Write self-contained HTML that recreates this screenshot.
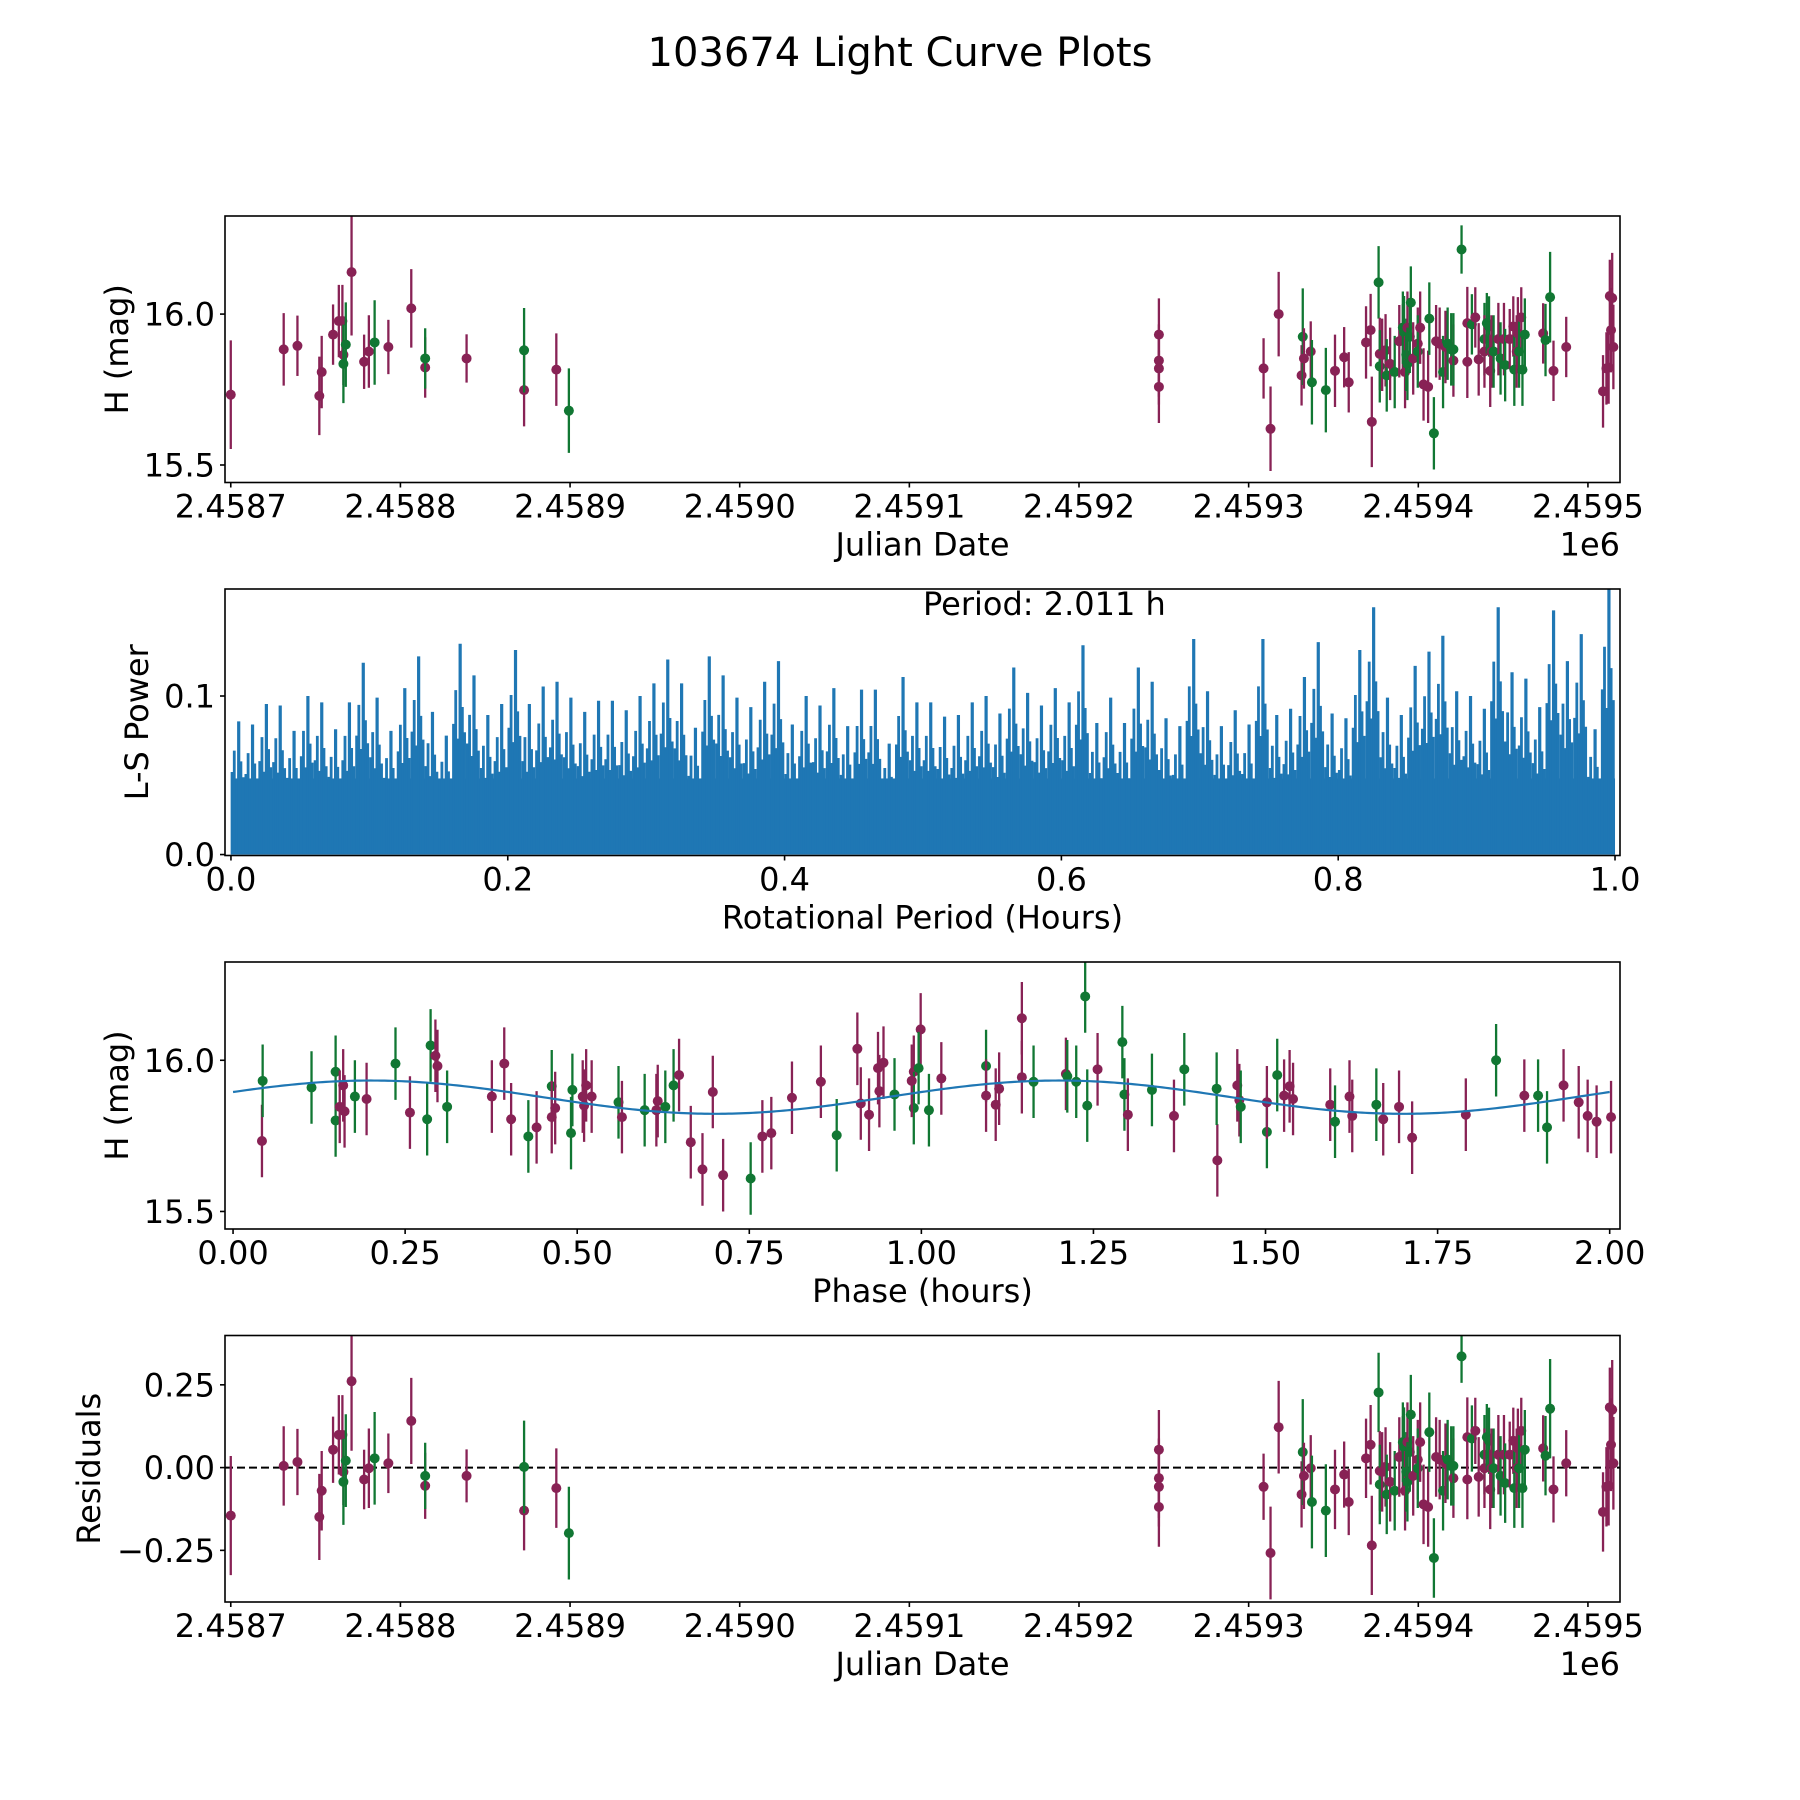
<!DOCTYPE html>
<html><head><meta charset="utf-8"><style>
html,body{margin:0;padding:0;background:#fff;}
svg{display:block;font-family:"DejaVu Sans","Liberation Sans",sans-serif;}
</style></head><body>
<svg id="fig" width="1800" height="1800" viewBox="0 0 1800 1800" xmlns="http://www.w3.org/2000/svg">
<rect width="1800" height="1800" fill="#fff"/>
<text x="900" y="66" font-size="40" text-anchor="middle">103674 Light Curve Plots</text>
</svg>
<script>
// ---------- Data: light curve (JD - 2458700, H mag, colour) ----------
const lcT = [0,31.2,39.3,52.2,53.6,60.3,63.7,65.8,66.4,66.4,67.8,71.2,78.6,81.4,84.8,92.9,106.4,114.6,114.6,139.0,172.9,172.9,191.9,199.3,
547.1,547.1,547.1,547.1,608.8,612.9,617.7,631.2,631.9,632.6,636.6,637.3,645.5,650.9,656.3,659.0,669.2,671.9,672.6,676.6,677.3,677.3,678.7,680.7,681.4,683.4,
686.1,688.8,690.9,690.9,691.6,692.2,692.9,693.6,693.6,695.0,695.6,697.0,699.7,699.7,701.1,703.1,705.8,706.5,709.2,710.5,712.6,714.6,716.0,717.3,719.4,720.7,720.7,
725.5,728.9,728.9,731.6,733.6,735.6,739.0,739.0,740.4,741.7,742.4,743.1,744.4,747.2,748.5,750.5,751.2,753.9,756.0,756.6,758.0,758.7,759.4,760.7,761.4,762.8,
773.6,775.0,777.7,779.7,787.2,808.9,810.9,812.2,812.9,813.6,814.3,815.0];
const lcMag = [15.733,15.883,15.895,15.729,15.808,15.932,15.977,15.977,15.865,15.835,15.899,16.139,15.842,15.876,15.906,15.891,16.019,15.823,15.853,15.853,15.748,15.880,15.816,15.680,
15.932,15.846,15.820,15.759,15.820,15.620,16.000,15.797,15.925,15.853,15.876,15.774,15.748,15.812,15.857,15.774,15.906,15.947,15.643,16.105,15.868,15.827,15.865,15.880,15.797,15.835,
15.808,15.910,15.914,15.955,15.940,15.808,15.865,15.955,15.835,15.925,16.038,15.853,15.902,15.876,15.955,15.767,15.759,15.985,15.605,15.910,15.902,15.808,15.891,15.902,15.883,15.846,15.883,
16.214,15.970,15.842,15.966,15.989,15.850,15.917,15.876,15.970,15.959,15.812,15.876,15.876,15.917,15.853,15.917,15.831,15.917,15.959,15.816,15.876,15.936,15.876,15.989,15.816,15.932,
15.936,15.914,16.056,15.812,15.891,15.744,15.820,15.823,16.060,15.947,16.053,15.891];
const lcBand = "mmmmmmmmmggmmmgmmmgmmgmgmmmmmmmmgmmggmmmmmmgmgmmgmgmmggmgmgggmmgmmmggmmgmggmggmmgmmgmggmmgmgmgmmgmmgmggmggmmmmmmmmm";
const lcErr = [0.18,0.12,0.10,0.13,0.12,0.10,0.12,0.12,0.10,0.13,0.14,0.21,0.09,0.12,0.14,0.09,0.13,0.10,0.10,0.08,0.12,0.14,0.12,0.14,
0.12,0.12,0.12,0.12,0.10,0.14,0.14,0.10,0.16,0.10,0.10,0.14,0.14,0.12,0.10,0.10,0.12,0.12,0.15,0.12,0.12,0.12,0.12,0.12,0.12,0.12,
0.12,0.12,0.12,0.12,0.12,0.12,0.12,0.12,0.12,0.12,0.12,0.12,0.12,0.12,0.12,0.12,0.12,0.12,0.12,0.12,0.12,0.12,0.12,0.12,0.12,0.12,0.12,
0.08,0.12,0.12,0.10,0.10,0.12,0.12,0.12,0.10,0.10,0.12,0.12,0.12,0.12,0.12,0.12,0.12,0.10,0.10,0.12,0.12,0.12,0.12,0.10,0.12,0.12,
0.10,0.12,0.15,0.10,0.10,0.12,0.12,0.12,0.12,0.14,0.15,0.14];

// ---------- Data: phase-folded (phase hours, H mag, colour) ----------
const phX = [0.042,0.043,0.114,0.149,0.149,0.155,0.160,0.162,0.177,0.194,0.236,0.257,0.282,0.287,0.294,0.297,0.311,0.376,0.394,0.404,0.429,0.441,0.463,0.463,0.468,0.491,0.493,0.508,0.513,0.510,0.521,
0.560,0.565,0.598,0.615,0.617,0.628,0.640,0.648,0.665,0.682,0.697,0.712,0.752,0.769,0.782,0.812,0.854,0.877,0.907,0.912,0.924,0.937,0.939,0.945,0.961,0.989,0.989,0.999,0.986,0.996,
1.011,1.029,1.094,1.094,1.108,1.113,1.146,1.146,1.163,1.210,1.212,1.225,1.238,1.241,1.256,1.292,1.295,1.300,1.335,1.367,1.382,1.430,1.429,1.459,1.462,1.464,1.502,1.502,1.517,1.527,1.535,1.540,
1.594,1.601,1.622,1.626,1.661,1.671,1.694,1.713,1.791,1.835,1.876,1.896,1.909,1.933,1.955,1.968,1.981,2.002];
const phMag = [15.733,15.932,15.910,15.801,15.962,15.846,15.917,15.831,15.880,15.872,15.989,15.827,15.805,16.049,16.015,15.981,15.846,15.880,15.989,15.805,15.748,15.778,15.914,15.812,15.842,15.759,15.902,15.880,15.917,15.850,15.880,
15.861,15.812,15.835,15.835,15.865,15.846,15.917,15.951,15.729,15.639,15.895,15.620,15.609,15.748,15.759,15.876,15.929,15.752,16.038,15.857,15.820,15.974,15.898,15.992,15.887,15.962,15.842,16.102,15.932,15.974,
15.835,15.940,15.981,15.883,15.853,15.906,16.139,15.944,15.929,15.955,15.947,15.929,16.211,15.850,15.970,16.060,15.887,15.820,15.902,15.816,15.970,15.669,15.906,15.917,15.868,15.846,15.763,15.861,15.951,15.883,15.914,15.872,
15.853,15.797,15.880,15.816,15.853,15.805,15.846,15.744,15.820,16.000,15.883,15.883,15.778,15.917,15.861,15.816,15.797,15.812];
const phBand = "mggggmmmgmgmgg" + "mmgmmmgmgmmggmmmm" + "gmgmmggmmmmmgmmmmgmmmmmmgmgmm" + "ggmgmmmmmgmggggmggmgmgmgmmggmgmm" + "mmgmmgmmmmgmggmmmm";
const phErr = 0.12;

// ---------- Data: Lomb-Scargle periodogram (max power per 0.01 h bin) ----------
const lsBinStart = 0.0;
const lsBinWidth = 0.01;
const lsBinMax = [0.084,0.082,0.095,0.094,0.078,0.100,0.096,0.079,0.096,0.121,0.099,0.078,0.105,0.125,0.090,0.075,0.133,0.113,0.088,0.095,
0.129,0.095,0.106,0.109,0.099,0.090,0.097,0.097,0.091,0.100,0.108,0.123,0.108,0.080,0.125,0.113,0.099,0.093,0.109,0.122,
0.082,0.100,0.094,0.105,0.081,0.104,0.104,0.070,0.112,0.096,0.096,0.087,0.088,0.096,0.100,0.089,0.118,0.102,0.094,0.105,
0.096,0.132,0.083,0.099,0.083,0.118,0.109,0.086,0.081,0.136,0.103,0.081,0.091,0.082,0.136,0.088,0.092,0.112,0.134,0.089,
0.086,0.129,0.156,0.099,0.088,0.119,0.128,0.138,0.103,0.100,0.092,0.156,0.115,0.111,0.093,0.154,0.122,0.139,0.079,0.168];
const lsDenseLevel = 0.048;

// ---------- Fit (sinusoid in phase) ----------
const fitOffset = 15.878, fitAmp = 0.055, fitPeak = 0.2, fitPeriod = 1.0;

// ---------- Ticks ----------
const jdTicks = [0,100,200,300,400,500,600,700,800];
const jdTickLabels = ["2.4587","2.4588","2.4589","2.4590","2.4591","2.4592","2.4593","2.4594","2.4595"];
const magTicks = [15.5,16.0];
const magTickLabels = ["15.5","16.0"];
const lsXTicks = [0,0.2,0.4,0.6,0.8,1.0];
const lsXTickLabels = ["0.0","0.2","0.4","0.6","0.8","1.0"];
const lsYTicks = [0,0.1];
const lsYTickLabels = ["0.0","0.1"];
const phXTicks = [0,0.25,0.5,0.75,1.0,1.25,1.5,1.75,2.0];
const phXTickLabels = ["0.00","0.25","0.50","0.75","1.00","1.25","1.50","1.75","2.00"];
const resTicks = [-0.25,0,0.25];
const resTickLabels = ["\u22120.25","0.00","0.25"];

const NS = "http://www.w3.org/2000/svg";
const svg = document.getElementById("fig");
const COL = {m:"#882255", g:"#117733"};
const FS = 32;
function mk(tag, attrs, parent){ const e=document.createElementNS(NS,tag); for(const k in attrs) e.setAttribute(k,attrs[k]); (parent||svg).appendChild(e); return e; }
function txt(s, attrs, parent){ const e=mk("text",attrs,parent); e.textContent=s; return e; }

function makeAxes(name, box, xlim, ylim){
  const g = mk("g",{});
  
  
  const sx = v => box.x0 + (v-xlim[0])/(xlim[1]-xlim[0])*(box.x1-box.x0);
  const sy = v => box.y1 - (v-ylim[0])/(ylim[1]-ylim[0])*(box.y1-box.y0);
  const clipId = name+"-clip";
  const cp = mk("clipPath",{id:clipId},g);
  mk("rect",{x:box.x0,y:box.y0,width:box.x1-box.x0,height:box.y1-box.y0},cp);
  const plot = mk("g",{"clip-path":"url(#"+clipId+")"},g);
  
  
  return {g, plot, sx, sy, box};
}
function frame(ax){
  const r = mk("rect",{x:ax.box.x0,y:ax.box.y0,width:ax.box.x1-ax.box.x0,height:ax.box.y1-ax.box.y0,fill:"none",stroke:"#000","stroke-width":1.6},ax.g);
  
  
}
function xTicks(ax, vals, labels, name){
  const g = mk("g",{},ax.g);
  
  
  vals.forEach((v,i)=>{
    const x = ax.sx(v);
    mk("line",{x1:x,x2:x,y1:ax.box.y1,y2:ax.box.y1+5,stroke:"#000","stroke-width":1.6},g);
    const t = txt(labels[i],{x:x,y:ax.box.y1+35,"font-size":FS,"text-anchor":"middle"},g);
    
    
  });
}
function yTicks(ax, vals, labels, name){
  const g = mk("g",{},ax.g);
  
  
  vals.forEach((v,i)=>{
    const y = ax.sy(v);
    mk("line",{x1:ax.box.x0-5,x2:ax.box.x0,y1:y,y2:y,stroke:"#000","stroke-width":1.6},g);
    const t = txt(labels[i],{x:ax.box.x0-10,y:y+11.5,"font-size":FS,"text-anchor":"end"},g);
    
    
  });
}
function labels(ax, xl, yl, xname, yname, ylx){
  const cx = (ax.box.x0+ax.box.x1)/2, cy=(ax.box.y0+ax.box.y1)/2;
  const a = txt(xl,{x:cx,y:ax.box.y1+73,"font-size":FS,"text-anchor":"middle"},ax.g);
  
  
  const b = txt(yl,{x:0,y:0,"font-size":FS,"text-anchor":"middle",transform:"translate("+ylx+","+cy+") rotate(-90)"},ax.g);
  
  
}
function errPoints(ax, xs, ys, errs, bands, name){
  const g = mk("g",{},ax.plot);
  
  
  xs.forEach((xv,i)=>{
    const e = Array.isArray(errs)? errs[i] : errs;
    const c = COL[bands[i]] || COL.m;
    const x = ax.sx(xv), y = ax.sy(ys[i]);
    const l = mk("line",{x1:x,x2:x,y1:ax.sy(ys[i]+e),y2:ax.sy(ys[i]-e),stroke:c,"stroke-width":2.3},g);
    
    
    const p = mk("circle",{cx:x,cy:y,r:5,fill:c},g);
    
    
  });
}

// ---------- Panel 1: light curve ----------
const jdLim = [-3.4, 818.9];
const magLim = [15.442, 16.325];
const ax1 = makeAxes("light-curve-axes",{x0:225,x1:1620,y0:216,y1:482.5},jdLim,magLim);
errPoints(ax1, lcT, lcMag, lcErr, lcBand, "light-curve-points");
frame(ax1);
xTicks(ax1, jdTicks, jdTickLabels, "light-curve-x-ticks");
yTicks(ax1, magTicks, magTickLabels, "light-curve-y-ticks");
labels(ax1, "Julian Date", "H (mag)", "light-curve-x-title", "light-curve-y-title", 128);
const off1 = txt("1e6",{x:1620,y:482.5+73,"font-size":FS,"text-anchor":"end"},ax1.g);



// ---------- Panel 2: periodogram ----------
const ax2 = makeAxes("periodogram-axes",{x0:225,x1:1620,y0:589,y1:855.5},[-0.0043,1.0036],[-0.0006,0.1675]);
const lsG = mk("g",{},ax2.plot);


const lsEnd = lsBinStart + lsBinMax.length*lsBinWidth;
const dense = mk("rect",{x:ax2.sx(lsBinStart),y:ax2.sy(lsDenseLevel),width:ax2.sx(lsEnd)-ax2.sx(lsBinStart),height:ax2.sy(0)-ax2.sy(lsDenseLevel),fill:"#1f77b4"},lsG);


// texture: sub-lines within each bin, scaled from that bin's peak (decorative)
const subOff = [0.08,0.24,0.40,0.56,0.72,0.88];
const subScale = [0.62,0.78,0.55,1.0,0.70,0.58];
lsBinMax.forEach((pw,i)=>{
  const p0 = lsBinStart + i*lsBinWidth;
  subOff.forEach((o,k)=>{
    const x = ax2.sx(p0 + lsBinWidth*o);
    const h = Math.max(lsDenseLevel, pw*subScale[k]);
    const s = mk("line",{x1:x,x2:x,y1:ax2.sy(0),y2:ax2.sy(h),stroke:"#1f77b4","stroke-width":k===3?3.2:2.8},lsG);
    
    
  });
});
frame(ax2);
xTicks(ax2, lsXTicks, lsXTickLabels, "periodogram-x-ticks");
yTicks(ax2, lsYTicks, lsYTickLabels, "periodogram-y-ticks");
labels(ax2, "Rotational Period (Hours)", "L-S Power", "periodogram-x-title", "periodogram-y-title", 148);
const per = txt("Period: 2.011 h",{x:923,y:615,"font-size":FS},ax2.g);



// ---------- Panel 3: phase-folded ----------
const ax3 = makeAxes("phase-axes",{x0:225,x1:1620,y0:962,y1:1229},[-0.0117,2.015],magLim);
errPoints(ax3, phX, phMag, phErr, phBand, "phase-points");
let d = "";
for(let k=0;k<=400;k++){
  const ph = k/400*2.0;
  const m = fitOffset + fitAmp*Math.cos(2*Math.PI*(ph-fitPeak)/fitPeriod);
  d += (k?"L":"M")+ax3.sx(ph).toFixed(2)+","+ax3.sy(m).toFixed(2);
}
const fit = mk("path",{d:d,fill:"none",stroke:"#1f77b4","stroke-width":2.2},ax3.plot);


frame(ax3);
xTicks(ax3, phXTicks, phXTickLabels, "phase-x-ticks");
yTicks(ax3, magTicks, magTickLabels, "phase-y-ticks");
labels(ax3, "Phase (hours)", "H (mag)", "phase-x-title", "phase-y-title", 128);

// ---------- Panel 4: residuals ----------
const ax4 = makeAxes("residuals-axes",{x0:225,x1:1620,y0:1335.5,y1:1602},jdLim,[-0.406,0.399]);
const zl = mk("line",{x1:225,x2:1620,y1:ax4.sy(0),y2:ax4.sy(0),stroke:"#000","stroke-width":2,"stroke-dasharray":"8,4"},ax4.plot);


const resid = lcMag.map(v => v - fitOffset);
errPoints(ax4, lcT, resid, lcErr, lcBand, "residual-points");
frame(ax4);
xTicks(ax4, jdTicks, jdTickLabels, "residuals-x-ticks");
yTicks(ax4, resTicks, resTickLabels, "residuals-y-ticks");
labels(ax4, "Julian Date", "Residuals", "residuals-x-title", "residuals-y-title", 100);
const off4 = txt("1e6",{x:1620,y:1602+73,"font-size":FS,"text-anchor":"end"},ax4.g);


</script>
</body></html>
